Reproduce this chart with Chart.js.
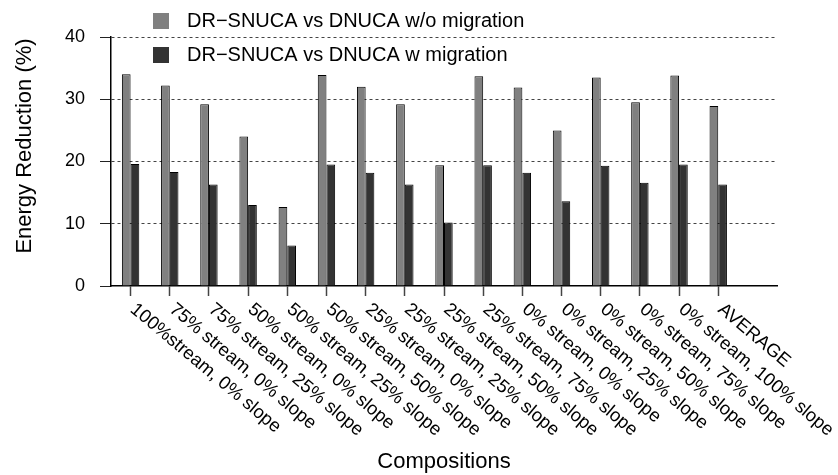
<!DOCTYPE html>
<html>
<head>
<meta charset="utf-8">
<script src="https://cdn.jsdelivr.net/npm/chart.js@4.4.0/dist/chart.umd.min.js"></script>
<style>
  html, body { margin: 0; padding: 0; background: #fff; }
  #wrap { width: 838px; height: 475px; }
</style>
</head>
<body>
<div id="wrap"><canvas id="energyChart"></canvas></div>
<script>
// compositions on the x axis
const categories = [
    "100%stream, 0% slope",
    "75% stream, 0% slope",
    "75% stream, 25% slope",
    "50% stream, 0% slope",
    "50% stream, 25% slope",
    "50% stream, 50% slope",
    "25% stream, 0% slope",
    "25% stream, 25% slope",
    "25% stream, 50% slope",
    "25% stream, 75% slope",
    "0% stream, 0% slope",
    "0% stream, 25% slope",
    "0% stream, 50% slope",
    "0% stream, 75% slope",
    "0% stream, 100% slope",
    "AVERAGE"
];

const seriesNames = ["DR\u2212SNUCA vs DNUCA w/o migration", "DR\u2212SNUCA vs DNUCA w migration"];

// energy reduction (%)
const withoutMigration = [34.0, 32.2, 29.2, 24.0, 12.7, 33.9, 32.0, 29.2, 19.4, 33.7, 31.9, 25.0, 33.5, 29.5, 33.8, 28.9];
const withMigration = [19.6, 18.3, 16.3, 13.0, 6.5, 19.5, 18.2, 16.3, 10.2, 19.4, 18.2, 13.6, 19.3, 16.6, 19.5, 16.3];

const yTicks = [0, 10, 20, 30, 40];

const FONT = "'Liberation Sans', Arial, Helvetica, sans-serif";
const colors = ["#808080", "#333333"];

// draws the rotated tick labels, axis titles and legend
const textPlugin = {
    id: 'textPlugin',
    afterDraw(chart) {
        const ctx = chart.ctx;
        const xScale = chart.scales.x;
        ctx.save();
        ctx.fillStyle = "#000";

        // x tick labels, rotated clockwise, starting at the tick
        ctx.font = "18.5px " + FONT;
        ctx.textAlign = "left";
        ctx.textBaseline = "top";
        categories.forEach((label, i) => {
            const x = xScale.getPixelForValue(i);
            ctx.save();
            ctx.translate(x + 8, 300);
            ctx.rotate(40 * Math.PI / 180);
            ctx.fillText(label, 0, 0);
            ctx.restore();
        });

        // axis titles
        ctx.font = "22px " + FONT;
        ctx.textAlign = "center";
        ctx.textBaseline = "middle";
        ctx.fillText("Compositions", (chart.chartArea.left + chart.chartArea.right) / 2, 462);
        ctx.save();
        ctx.translate(25, 146);
        ctx.rotate(-Math.PI / 2);
        ctx.fillText("Energy Reduction (%)", 0, 0);
        ctx.restore();

        // legend
        ctx.font = "20px " + FONT;
        ctx.textAlign = "left";
        chart.data.datasets.forEach((ds, i) => {
            const y = 21 + i * 34;
            ctx.fillStyle = ds.backgroundColor;
            ctx.fillRect(153, y - 8, 16, 16);
            ctx.fillStyle = "#000";
            ctx.fillText(ds.label, 187, y);
        });
        ctx.restore();
    }
};

const ctx = document.getElementById('energyChart').getContext('2d');
const chartEnergy = new Chart(ctx, {
    type: 'bar',
    data: {
        labels: categories.concat([""]), // empty slot at the right end
        datasets: [{
            label: seriesNames[0],
            data: withoutMigration,
            backgroundColor: colors[0],
            borderColor: "#000",
            borderWidth: 1,
            categoryPercentage: 0.444,
            barPercentage: 1.0
        }, {
            label: seriesNames[1],
            data: withMigration,
            backgroundColor: colors[1],
            borderColor: "#000",
            borderWidth: 1,
            categoryPercentage: 0.444,
            barPercentage: 1.0
        }]
    },
    options: {
        responsive: true,
        maintainAspectRatio: false,
        animation: false,
        layout: { padding: { top: 37, right: 61, left: 0, bottom: 0 } },
        plugins: {
            legend: { display: false },
            tooltip: { enabled: false }
        },
        scales: {
            x: {
                offset: true,
                grid: {
                    offset: false,
                    drawOnChartArea: false,
                    drawTicks: true,
                    tickLength: 10,
                    tickColor: (c) => c.index === categories.length ? "rgba(0,0,0,0)" : "#444",
                    tickWidth: 1.5
                },
                border: { color: "#000", width: 1.5 },
                ticks: { display: false },
                afterFit(scale) { scale.height = 189; }
            },
            y: {
                min: 0,
                max: 40,
                afterBuildTicks(scale) { scale.ticks = yTicks.map(v => ({ value: v })); },
                grid: {
                    color: (c) => c.tick && c.tick.value === 0 ? "rgba(0,0,0,0)" : "#444",
                    tickBorderDash: [],
                    tickColor: "#222",
                    tickLength: 11,
                    lineWidth: 1
                },
                border: { color: "#000", width: 1.5, dash: [3, 3] },
                ticks: {
                    color: "#000",
                    padding: 15,
                    font: { family: FONT, size: 18 }
                },
                afterFit(scale) { scale.width = 111; }
            }
        }
    },
    plugins: [textPlugin]
});
</script>
</body>
</html>
